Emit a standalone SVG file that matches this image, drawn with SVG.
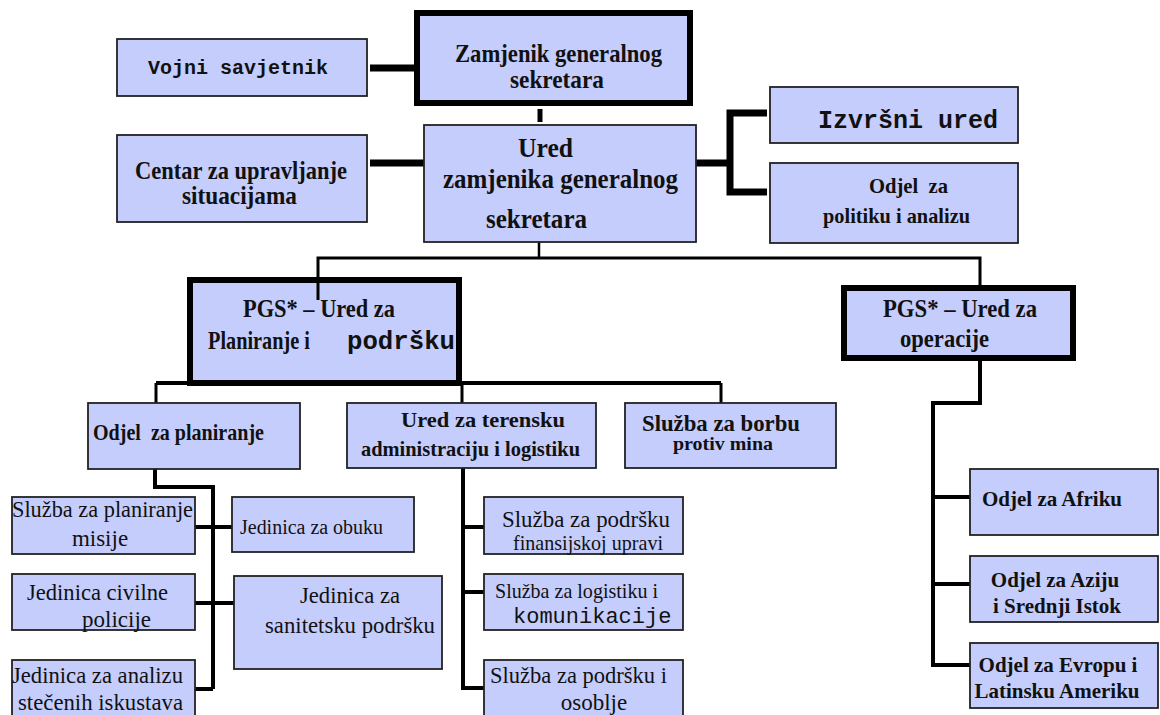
<svg xmlns="http://www.w3.org/2000/svg" width="1160" height="715" viewBox="0 0 1160 715">
<style>
.b{fill:#C5CDFD;stroke:#222;stroke-width:1.8}
.bt{fill:#C5CDFD;stroke:#000;stroke-width:6}
.t{font-family:"Liberation Serif","Times New Roman",serif;fill:#111;white-space:pre}
.bd{font-weight:bold}
.m{font-family:"Liberation Mono","Courier New",monospace;fill:#111;white-space:pre}
.c{stroke:#000;fill:none}
.k{stroke-width:7}
.n{stroke-width:4}
.s{stroke-width:3}
</style>
<rect width="1160" height="715" fill="#fff"/>
<g id="connectors">
<line class="c k" x1="370" y1="68" x2="414" y2="68"/>
<line class="c" stroke-width="5" x1="540" y1="109" x2="540" y2="122"/>
<line class="c k" x1="370" y1="163" x2="424" y2="163"/>
<line class="c k" x1="696" y1="163" x2="730" y2="163"/>
<polyline class="c k" points="767,113 730,113 730,192 767,192"/>
<line class="c" stroke-width="2.5" x1="539" y1="220" x2="539" y2="258"/>
<polyline class="c s" points="318,286 318,258 980,258 980,288"/>
<line class="c s" x1="318" y1="357" x2="318" y2="383"/>
<line class="c n" x1="156" y1="383" x2="721" y2="383"/>
<line class="c s" x1="156" y1="383" x2="156" y2="403"/>
<line class="c s" x1="462" y1="383" x2="462" y2="403"/>
<line class="c s" x1="721" y1="383" x2="721" y2="403"/>
<polyline class="c n" points="155,469 155,487 213,487 213,689"/>
<line class="c n" x1="195" y1="527" x2="232" y2="527"/>
<line class="c n" x1="195" y1="603" x2="234" y2="603"/>
<line class="c n" x1="195" y1="689" x2="213" y2="689"/>
<line class="c n" x1="463" y1="468" x2="463" y2="688"/>
<line class="c n" x1="463" y1="527" x2="484" y2="527"/>
<line class="c n" x1="463" y1="592" x2="484" y2="592"/>
<line class="c n" x1="461" y1="688" x2="484" y2="688"/>
<polyline class="c n" points="980,361 980,403 933,403 933,665"/>
<line class="c n" x1="933" y1="497" x2="970" y2="497"/>
<line class="c n" x1="933" y1="584" x2="970" y2="584"/>
<line class="c n" x1="931" y1="665" x2="970" y2="665"/>
</g>
<g id="vojni">
<rect class="b" x="117" y="39" width="250" height="57"/>
<text class="m bd" x="148" y="74" font-size="20">Vojni savjetnik</text>
</g>
<g id="zamjenik">
<rect class="bt" x="417" y="13" width="273" height="90"/>
<text class="t bd" font-size="25" x="455" y="62" textLength="207" lengthAdjust="spacingAndGlyphs">Zamjenik generalnog</text>
<text class="t bd" font-size="25" x="510" y="88" textLength="94" lengthAdjust="spacingAndGlyphs">sekretara</text>
</g>
<g id="centar">
<rect class="b" x="117" y="135" width="250" height="87"/>
<text class="t bd" font-size="25" x="135" y="179" textLength="212" lengthAdjust="spacingAndGlyphs">Centar za upravljanje</text>
<text class="t bd" font-size="25" x="182" y="204" textLength="115" lengthAdjust="spacingAndGlyphs">situacijama</text>
</g>
<g id="ured">
<rect class="b" x="424" y="125" width="272" height="117"/>
<text class="t bd" font-size="28" x="518" y="157" textLength="55" lengthAdjust="spacingAndGlyphs">Ured</text>
<text class="t bd" font-size="28" x="443" y="188" textLength="235" lengthAdjust="spacingAndGlyphs">zamjenika generalnog</text>
<text class="t bd" font-size="28" x="486" y="228" textLength="101" lengthAdjust="spacingAndGlyphs">sekretara</text>
</g>
<g id="izvrsni">
<rect class="b" x="770" y="87" width="248" height="56"/>
<text class="m bd" x="818" y="128" font-size="25">Izvršni ured</text>
</g>
<g id="politika">
<rect class="b" x="770" y="163" width="248" height="80"/>
<text class="t bd" font-size="21" x="869" y="193" textLength="79" lengthAdjust="spacingAndGlyphs">Odjel  za</text>
<text class="t bd" font-size="21" x="823" y="223" textLength="147" lengthAdjust="spacingAndGlyphs">politiku i analizu</text>
</g>
<g id="pgs-planiranje">
<rect class="bt" x="190" y="280" width="269" height="103"/>
<line class="c s" x1="318" y1="280" x2="318" y2="300"/>
<text class="t bd" font-size="26" x="243" y="317" textLength="152" lengthAdjust="spacingAndGlyphs">PGS* – Ured za</text>
<text class="t bd" font-size="26" x="208" y="349" textLength="102" lengthAdjust="spacingAndGlyphs">Planiranje i</text>
<text class="m bd" font-size="25" x="347" y="349" textLength="108" lengthAdjust="spacingAndGlyphs">podršku</text>
</g>
<g id="pgs-operacije">
<rect class="bt" x="844" y="288" width="229" height="70"/>
<text class="t bd" font-size="26" x="883" y="317" textLength="154" lengthAdjust="spacingAndGlyphs">PGS* – Ured za</text>
<text class="t bd" font-size="26" x="900" y="347" textLength="89" lengthAdjust="spacingAndGlyphs">operacije</text>
</g>
<g id="odjel-planiranje">
<rect class="b" x="88" y="403" width="212" height="66"/>
<text class="t bd" font-size="23" x="93" y="440" textLength="171" lengthAdjust="spacingAndGlyphs">Odjel  za planiranje</text>
</g>
<g id="terenska">
<rect class="b" x="347" y="403" width="249" height="65"/>
<text class="t bd" font-size="22" x="401" y="427" textLength="164" lengthAdjust="spacingAndGlyphs">Ured za terensku</text>
<text class="t bd" font-size="22" x="361" y="456" textLength="219" lengthAdjust="spacingAndGlyphs">administraciju i logistiku</text>
</g>
<g id="mine">
<rect class="b" x="625" y="403" width="211" height="65"/>
<text class="t bd" font-size="23" x="642" y="431" textLength="158" lengthAdjust="spacingAndGlyphs">Služba za borbu</text>
<text class="t bd" font-size="18" x="673" y="450" textLength="100" lengthAdjust="spacingAndGlyphs">protiv mina</text>
</g>
<g id="misija">
<rect class="b" x="12" y="497" width="183" height="57"/>
<text class="t" font-size="23" x="12" y="517" textLength="181" lengthAdjust="spacingAndGlyphs">Služba za planiranje</text>
<text class="t" font-size="23" x="100" y="546" text-anchor="middle">misije</text>
</g>
<g id="obuka">
<rect class="b" x="232" y="497" width="182" height="55"/>
<text class="t" font-size="20" x="240" y="534" textLength="143" lengthAdjust="spacingAndGlyphs">Jedinica za obuku</text>
</g>
<g id="policija">
<rect class="b" x="12" y="574" width="183" height="56"/>
<text class="t" font-size="23" x="27" y="600" textLength="141" lengthAdjust="spacingAndGlyphs">Jedinica civilne</text>
<text class="t" font-size="23" x="82" y="627">policije</text>
</g>
<g id="sanitet">
<rect class="b" x="234" y="576" width="208" height="93"/>
<text class="t" font-size="23" x="300" y="603" textLength="100" lengthAdjust="spacingAndGlyphs">Jedinica za</text>
<text class="t" font-size="23" x="265" y="633" textLength="170" lengthAdjust="spacingAndGlyphs">sanitetsku podršku</text>
</g>
<g id="analiza">
<rect class="b" x="12" y="660" width="183" height="62"/>
<text class="t" font-size="23" x="12" y="683" textLength="171" lengthAdjust="spacingAndGlyphs">Jedinica za analizu</text>
<text class="t" font-size="23" x="18" y="710" textLength="165" lengthAdjust="spacingAndGlyphs">stečenih iskustava</text>
</g>
<g id="finansije">
<rect class="b" x="484" y="497" width="199" height="57"/>
<text class="t" font-size="23" x="502" y="527" textLength="168" lengthAdjust="spacingAndGlyphs">Služba za podršku</text>
<text class="t" font-size="22" x="513" y="550" textLength="150" lengthAdjust="spacingAndGlyphs">finansijskoj upravi</text>
</g>
<g id="logistika">
<rect class="b" x="484" y="574" width="199" height="56"/>
<text class="t" font-size="21" x="495" y="598" textLength="163" lengthAdjust="spacingAndGlyphs">Služba za logistiku i</text>
<text class="m" font-size="22" x="513" y="623">komunikacije</text>
</g>
<g id="osoblje">
<rect class="b" x="484" y="660" width="199" height="62"/>
<text class="t" font-size="23" x="490" y="683" textLength="177" lengthAdjust="spacingAndGlyphs">Služba za podršku i</text>
<text class="t" font-size="23" x="594" y="710" text-anchor="middle">osoblje</text>
</g>
<g id="afrika">
<rect class="b" x="970" y="469" width="188" height="66"/>
<text class="t bd" font-size="21" x="982" y="506">Odjel za Afriku</text>
</g>
<g id="azija">
<rect class="b" x="970" y="556" width="188" height="66"/>
<text class="t bd" font-size="21" x="1055" y="587" text-anchor="middle">Odjel za Aziju</text>
<text class="t bd" font-size="21" x="1057" y="613" text-anchor="middle">i Srednji Istok</text>
</g>
<g id="evropa">
<rect class="b" x="970" y="643" width="188" height="65"/>
<text class="t bd" font-size="21" x="1058" y="672" text-anchor="middle">Odjel za Evropu i</text>
<text class="t bd" font-size="21" x="1057" y="698" text-anchor="middle">Latinsku Ameriku</text>
</g>
</svg>
